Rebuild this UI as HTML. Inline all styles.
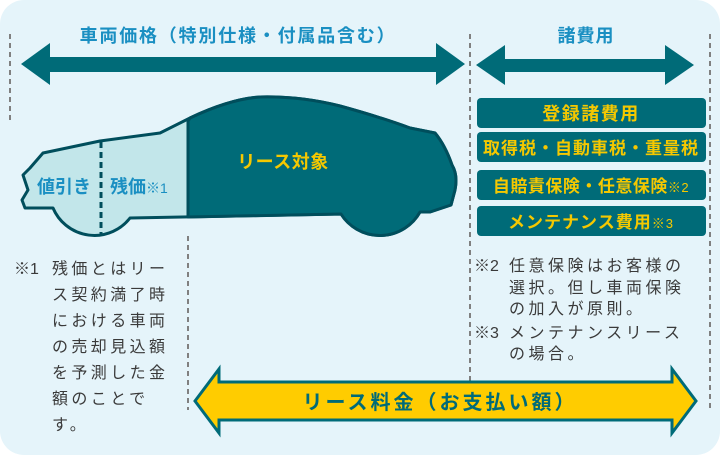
<!DOCTYPE html>
<html><head><meta charset="utf-8"><style>
html,body{margin:0;padding:0;background:#fff;}
svg{display:block;}
text{font-family:"Liberation Sans","Noto Sans CJK JP",sans-serif;}
</style></head><body>
<svg width="720" height="455" viewBox="0 0 720 455" xmlns="http://www.w3.org/2000/svg">
<rect x="0" y="0" width="720" height="455" rx="24" fill="#e5f4fa"/>
<g stroke="#808080" stroke-width="2" stroke-dasharray="5,4">
<line x1="10" y1="34" x2="10" y2="120"/>
<line x1="470" y1="34" x2="470" y2="410"/>
<line x1="710" y1="34" x2="710" y2="410"/>
<line x1="188" y1="236" x2="188" y2="410"/>
</g>
<text x="238" y="42" text-anchor="middle" font-size="18" font-weight="bold" fill="#1a8fc2" letter-spacing="1.8">車両価格（特別仕様・付属品含む）</text>
<text x="586" y="42" text-anchor="middle" font-size="18" font-weight="bold" fill="#1a8fc2" letter-spacing="1">諸費用</text>
<polygon points="21,64 50,43 50,57 436,57 436,43 465,64 436,85 436,72 50,72 50,85" fill="#006b78"/>
<polygon points="476,65 505,45 505,59 665,59 665,45 694,65 665,85 665,72 505,72 505,85" fill="#006b78"/>
<path d="M43,153 L100,141 L160,133 L190,118 Q230,99 260,97 Q300,96 340,106 Q380,117 410,128 L435,133 Q445,145 452,165 Q458,175 455,190 L451,205 L430,212 L420,212 A46,46 0 0 1 341,214 L130,218 A45,45 0 0 1 53,208 L25,208 L22,200 L28,190 L23,175 L30,168 Z" fill="#c2e6ea" stroke="#004e5c" stroke-width="3" stroke-linejoin="round"/>
<path d="M188,121 L190,118 Q230,99 260,97 Q300,96 340,106 Q380,117 410,128 L435,133 Q445,145 452,165 Q458,175 455,190 L451,205 L430,212 L420,212 A46,46 0 0 1 341,214 L188,217 Z" fill="#006b78" stroke="#004e5c" stroke-width="3" stroke-linejoin="round"/>
<line x1="101" y1="142" x2="101" y2="236" stroke="#004e5c" stroke-width="3" stroke-dasharray="6,4"/>
<line x1="188" y1="121" x2="188" y2="217" stroke="#004e5c" stroke-width="3" stroke-dasharray="6,4"/>
<text x="283" y="168" text-anchor="middle" font-size="18" font-weight="bold" fill="#f5c800" letter-spacing="0.5">リース対象</text>
<text x="64" y="193" text-anchor="middle" font-size="18" font-weight="bold" fill="#1a8fc2">値引き</text>
<text x="110" y="193" font-size="18" font-weight="bold" fill="#1a8fc2">残価<tspan font-size="14" font-weight="normal">※1</tspan></text>
<g fill="#006b78">
<rect x="477" y="98" width="229" height="30" rx="4"/>
<rect x="477" y="132" width="229" height="30" rx="4"/>
<rect x="477" y="170" width="229" height="30" rx="4"/>
<rect x="477" y="206" width="229" height="30" rx="4"/>
</g>
<g font-weight="bold" fill="#f5c800" text-anchor="middle">
<text x="591" y="120" font-size="18" letter-spacing="1.5">登録諸費用</text>
<text x="591" y="154" font-size="17" letter-spacing="1">取得税・自動車税・重量税</text>
<text x="591" y="192" font-size="17" letter-spacing="0.5">自賠責保険・任意保険<tspan font-size="13" font-weight="normal">※2</tspan></text>
<text x="591" y="228" font-size="17" letter-spacing="1">メンテナンス費用<tspan font-size="13" font-weight="normal">※3</tspan></text>
</g>
<g font-size="16" fill="#3a3a3a" letter-spacing="3.4">
<text x="14" y="274" letter-spacing="0">※1</text>
<text x="52" y="274">残価とはリー</text>
<text x="52" y="300">ス契約満了時</text>
<text x="52" y="326">における車両</text>
<text x="52" y="352">の売却見込額</text>
<text x="52" y="378">を予測した金</text>
<text x="52" y="404">額のことで</text>
<text x="52" y="430">す。</text>
</g>
<g font-size="16" fill="#3a3a3a" letter-spacing="3.5">
<text x="474" y="271" letter-spacing="0">※2</text>
<text x="509" y="271">任意保険はお客様の</text>
<text x="509" y="293">選択。但し車両保険</text>
<text x="509" y="314">の加入が原則。</text>
<text x="474" y="338" letter-spacing="0">※3</text>
<text x="509" y="338">メンテナンスリース</text>
<text x="509" y="359">の場合。</text>
</g>
<polygon points="195,401 219,369 219,382 672,382 672,369 696,401 672,433 672,420 219,420 219,433" fill="#ffcc00" stroke="#006b78" stroke-width="3" stroke-linejoin="miter"/>
<text x="440" y="409" text-anchor="middle" font-size="20" font-weight="bold" fill="#006b78" letter-spacing="3">リース料金（お支払い額）</text>
</svg>
</body></html>
